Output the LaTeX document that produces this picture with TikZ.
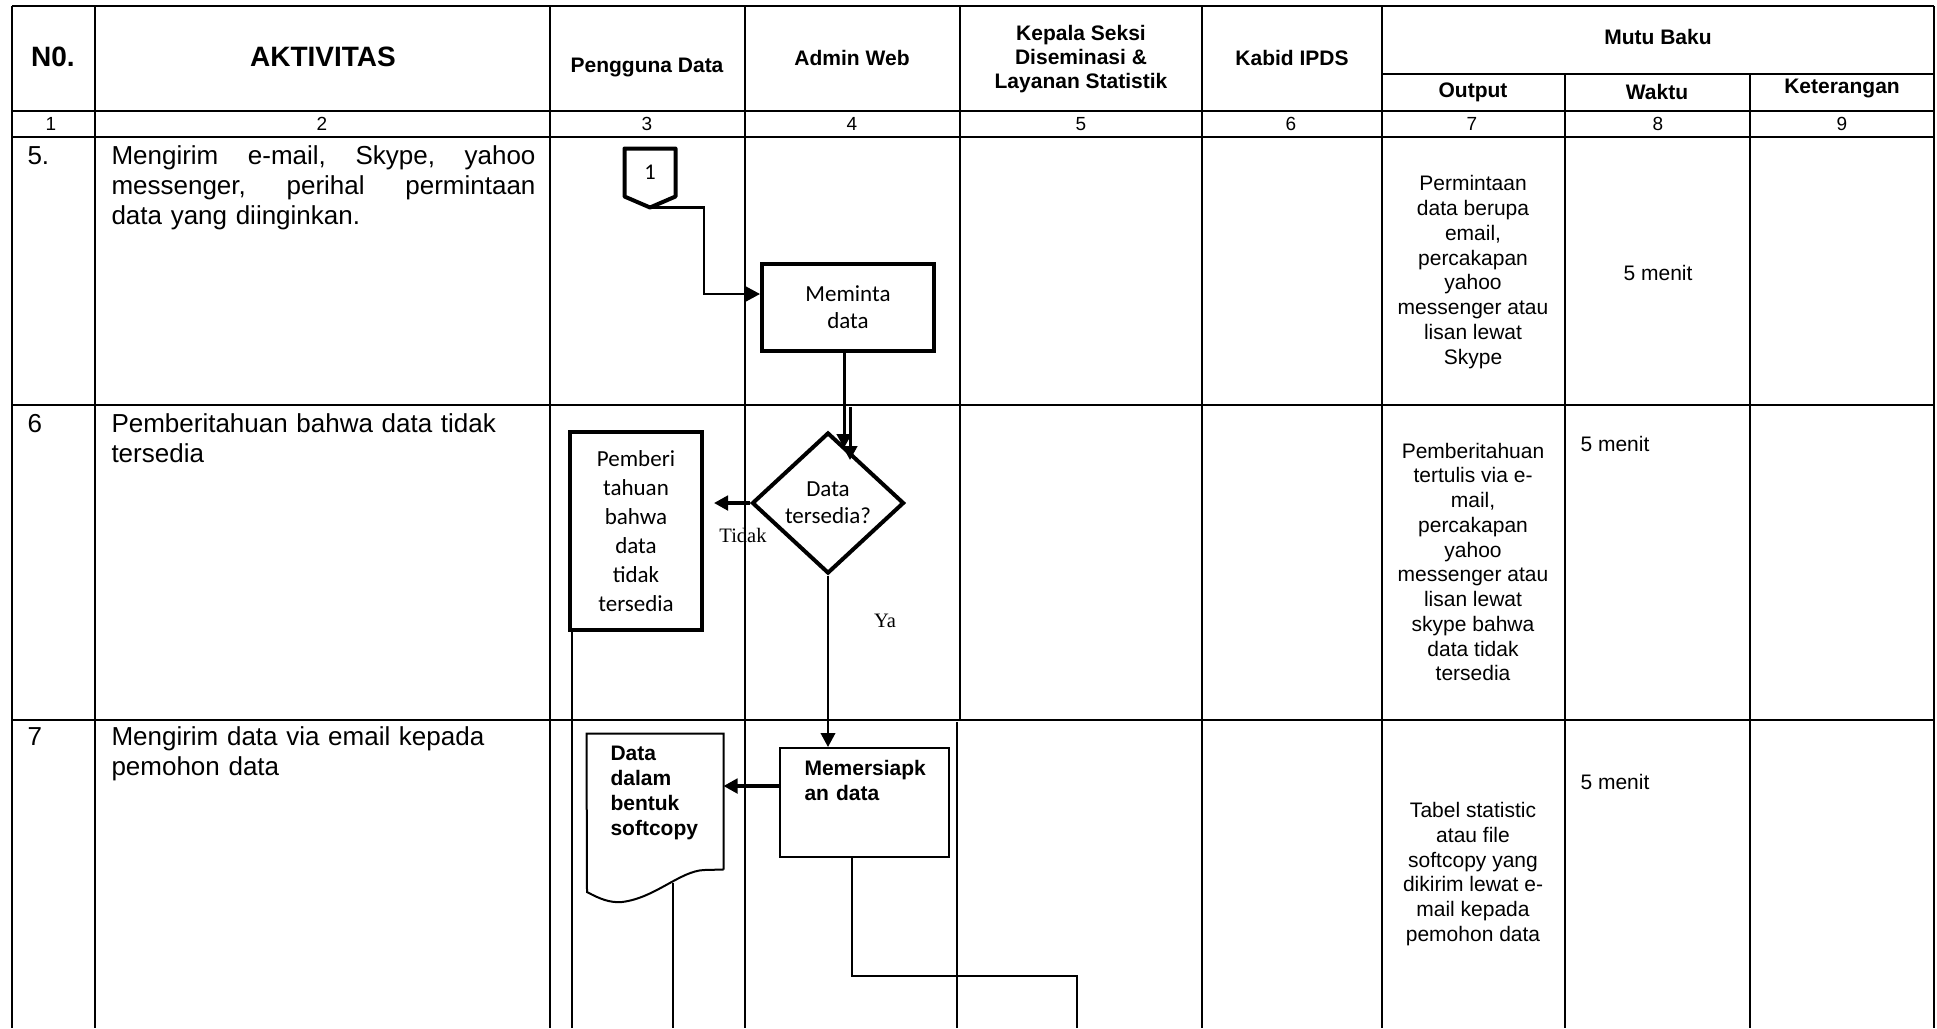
\documentclass[tikz,border=0pt]{standalone}
\usepackage{fontspec}
\setmainfont{Liberation Sans}
\newfontfamily\kotakfont{Carlito}
\newfontfamily\ketfont{Liberation Serif}
\usetikzlibrary{arrows.meta,positioning,calc,shapes.geometric}

\begin{document}
\begin{tikzpicture}[x=0.4pt,y=-0.4pt,>={Triangle[length=5.6pt,width=5.8pt]},
  garis/.style={line width=1pt},
  judul/.style={font=\bfseries\fontsize{8.4}{9.6}\selectfont,align=center,inner sep=0pt},
  judulbesar/.style={font=\bfseries\fontsize{11.2}{13}\selectfont,inner sep=0pt},
  nomor/.style={font=\fontsize{7.6}{9}\selectfont,inner sep=0pt},
  nobaris/.style={font=\fontsize{10.4}{12}\selectfont,anchor=base west,inner sep=0pt},
  aktivitas/.style={font=\fontsize{10.4}{12}\selectfont,anchor=base west,inner sep=0pt,text width=169.6pt,align=left},
  keluaran/.style={font=\fontsize{8.4}{9.9}\selectfont,align=center,inner sep=0pt},
  waktu/.style={font=\fontsize{8.4}{10}\selectfont,inner sep=0pt},
  proses/.style={draw,line width=1.6pt,font=\kotakfont\fontsize{9.2}{10.8}\selectfont,align=center,inner sep=0pt},
  keputusan/.style={diamond,draw,line width=1.6pt,font=\kotakfont\fontsize{9.2}{10.8}\selectfont,align=center,inner sep=0pt,minimum width=60.8pt,minimum height=56.4pt},
  tebal/.style={font=\bfseries\fontsize{8.4}{10}\selectfont,align=left,inner sep=0pt,anchor=base west},
  kotaktipis/.style={draw,line width=0.8pt,inner sep=0pt},
  alur/.style={line width=0.9pt},
  alurtebal/.style={line width=1.3pt},
  ket/.style={font=\ketfont\fontsize{8.2}{9.5}\selectfont,inner sep=0pt}]
\useasboundingbox (0,0) rectangle (1937,1028);
\draw[garis] (12,6) -- (1934,6);
\draw[garis] (1382,74) -- (1934,74);
\draw[garis] (12,111) -- (1934,111);
\draw[garis] (12,137) -- (1934,137);
\draw[garis] (12,405) -- (1934,405);
\draw[garis] (12,720) -- (1934,720);
\draw[garis] (12,6) -- (12,1028);
\draw[garis] (95,6) -- (95,1028);
\draw[garis] (550,6) -- (550,1028);
\draw[garis] (745,6) -- (745,1028);
\draw[garis] (960,6) -- (960,720);
\draw[garis] (957,722) -- (957,1028);
\draw[garis] (1202,6) -- (1202,1028);
\draw[garis] (1382,6) -- (1382,1028);
\draw[garis] (1565,74) -- (1565,1028);
\draw[garis] (1750,74) -- (1750,1028);
\draw[garis] (1934,6) -- (1934,1028);
\node[judulbesar] (hNo) at (53,57) {N0.};
\node[judulbesar] (hAkt) at (323,57) {AKTIVITAS};
\node[judul] (hPengguna) at (647,67) {Pengguna Data};
\node[judul] (hAdmin) at (852,58) {Admin Web};
\node[judul] (hKasi) at (1081,59) {Kepala Seksi\\Diseminasi \&\\Layanan Statistik};
\node[judul] (hKabid) at (1292,58) {Kabid IPDS};
\node[judul] (hMutu) at (1658,37) {Mutu Baku};
\node[judul] (hOutput) at (1473,92) {Output};
\node[judul] (hWaktu) at (1657,92) {Waktu};
\node[judul] (hKet) at (1842,88) {Keterangan};
\node[nomor] (n1) at (51,124) {1};
\node[nomor] (n2) at (322,124) {2};
\node[nomor] (n3) at (647,124) {3};
\node[nomor] (n4) at (852,124) {4};
\node[nomor] (n5) at (1081,124) {5};
\node[nomor] (n6) at (1291,124) {6};
\node[nomor] (n7) at (1472,124) {7};
\node[nomor] (n8) at (1658,124) {8};
\node[nomor] (n9) at (1842,124) {9};
\node[nobaris] (no5) at (27,164) {5.};
\node[aktivitas] (akt5) at (111,164) {\leavevmode\hbox to 169.6pt{Mengirim\hfil e-mail,\hfil Skype,\hfil yahoo}\\\leavevmode\hbox to 169.6pt{messenger,\hfil perihal\hfil permintaan}\\data yang diinginkan.};
\node[nobaris] (no6) at (27,432) {6};
\node[aktivitas] (akt6) at (111,432) {Pemberitahuan bahwa data tidak\\tersedia};
\node[nobaris] (no7) at (27,745) {7};
\node[aktivitas] (akt7) at (111,745) {Mengirim data via email kepada\\pemohon data};
\node[keluaran] (out5) at (1473,272) {Permintaan\\data berupa\\email,\\percakapan\\yahoo\\messenger atau\\lisan lewat\\Skype};
\node[keluaran] (out6) at (1473,562) {Pemberitahuan\\tertulis via e-\\mail,\\percakapan\\yahoo\\messenger atau\\lisan lewat\\skype bahwa\\data tidak\\tersedia};
\node[keluaran] (out7) at (1473,874) {Tabel statistic\\atau file\\softcopy yang\\dikirim lewat e-\\mail kepada\\pemohon data};
\node[waktu] (w5) at (1658,273) {5 menit};
\node[waktu,anchor=base west] (w6) at (1580,451) {5 menit};
\node[waktu,anchor=base west] (w7) at (1580,789) {5 menit};
\node[minimum width=20pt,minimum height=18.8pt,inner sep=0pt,font=\kotakfont\fontsize{9}{10}\selectfont] (k1) at (650,172.5) {1};
\coordinate (k1tip) at ([yshift=-4.4pt]k1.south);
\draw[line width=1.6pt,line join=round] (k1.north west) -- (k1.north east) -- (k1.south east) -- (k1tip) -- (k1.south west) -- cycle;
\node[proses,minimum width=68.8pt,minimum height=34.8pt] (meminta) at (848,307.5) {Meminta\\data};
\draw[->,alur] (k1tip) -- ++(54,0) |- ([yshift=5.4pt]meminta.west);
\node[keputusan] (cek) at (828,503) {Data\\tersedia?};
\draw[->,line width=1.2pt] ([xshift=-1.6pt]meminta.south) -- ++(0,95);
\draw[->,line width=1.2pt] ([xshift=0.8pt,yshift=-21.6pt]meminta.south) -- ++(0,53);
\node[proses,minimum width=52.8pt,minimum height=79.2pt,font=\kotakfont\fontsize{9.2}{11.6}\selectfont] (pemberi) at (636,531) {Pemberi\\tahuan\\bahwa\\data\\tidak\\tersedia};
\draw[->,alurtebal] (cek.west) -- ([xshift=4pt]pemberi.east |- cek.west);
\node[ket] (lTidak) at (743,535) {Tidak};
\node[ket] (lYa) at (885,621) {Ya};
\node[kotaktipis,minimum width=67.6pt,minimum height=43.6pt] (siap) at (864.5,802.5) {};
\node[tebal,text width=56pt] (siapTeks) at (804,775) {Memersiapk\\an data};
\draw[->,alur] (cek.south) -- (cek.south |- siap.north);
\node[minimum width=54.4pt,minimum height=54pt,inner sep=0pt] (dok) at (655,801.5) {};
\draw[line width=0.8pt] (dok.south east) -- (dok.north east) -- (dok.north west) -- (587,892) .. controls (600,899) and (610,903) .. (622,902) .. controls (655,898) and (680,871) .. (704,870) -- (dok.south east);
\node[tebal,text width=44pt] (dokTeks) at (610,760) {Data\\dalam\\bentuk\\softcopy};
\coordinate (siapKiri) at ([yshift=6.6pt]siap.west);
\draw[->,alurtebal] (siapKiri) -- (siapKiri -| dok.east);
\coordinate (dokBawah) at (673,883);
\coordinate (ujungDok) at (673,1028);
\coordinate (ujungPemberi) at (572,1028);
\coordinate (ujungKanan) at (1077,1028);
\draw[alur] (pemberi.south west -| ujungPemberi) -- (ujungPemberi);
\draw[alur] (dokBawah) -- (ujungDok);
\draw[alur] ([xshift=-5pt]siap.south) -- ++(0,118) -| (ujungKanan);
\end{tikzpicture}
\end{document}
